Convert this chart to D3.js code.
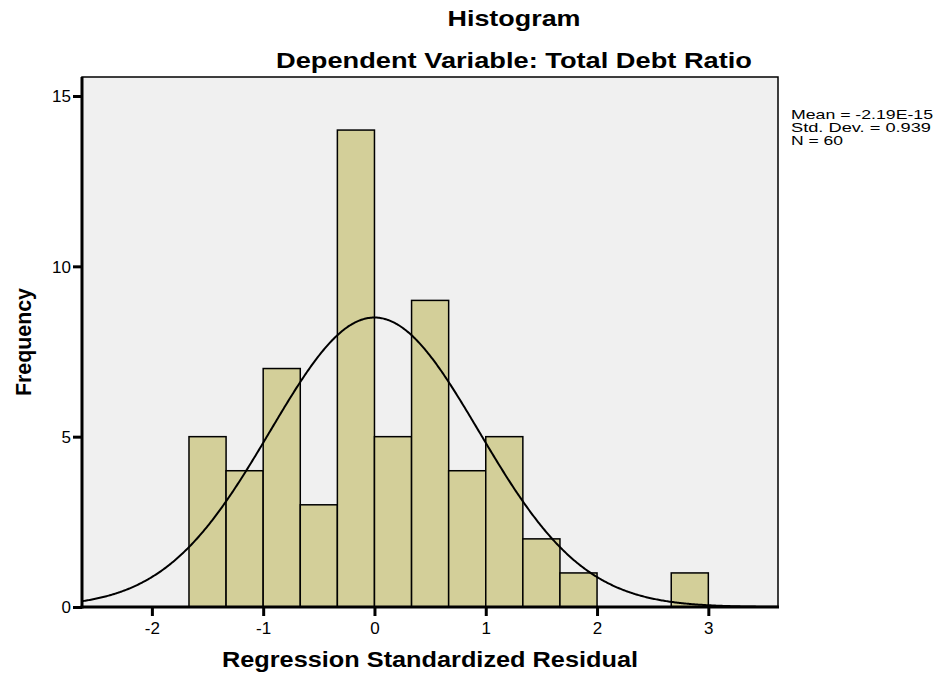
<!DOCTYPE html>
<html>
<head>
<meta charset="utf-8">
<script src="https://cdn.jsdelivr.net/npm/d3@7"></script>
<style>
  body { margin: 0; background: #fff; }
  text { font-family: "Liberation Sans", Arial, sans-serif; }
</style>
</head>
<body>
<svg width="938" height="674"></svg>
<script>
// bins of the standardized residual (width 1/3)
var binStart = [-5/3, -4/3, -1, -2/3, -1/3, 0, 1/3, 2/3, 1, 4/3, 5/3, 2, 7/3, 8/3];
var binWidth = 1 / 3;
var freq = [5, 4, 7, 3, 14, 5, 9, 4, 5, 2, 1, 0, 0, 1];
var xTicks = [-2, -1, 0, 1, 2, 3];
var yTicks = [0, 5, 10, 15];
var mean = 0, sd = 0.939, n = 60;
var statLines = ["Mean = -2.19E-15", "Std. Dev. = 0.939", "N = 60"];
var statWidths = [142, 140, 52];

var svg = d3.select("svg");
var pLeft = 82, pRight = 778, pTop = 77, pBottom = 607;

var x = d3.scaleLinear().domain([-2.628, 3.626]).range([pLeft, pRight]);
var y = d3.scaleLinear().domain([0, 15]).range([pBottom, 96]);

svg.append("rect")
    .attr("x", pLeft).attr("y", pTop)
    .attr("width", pRight - pLeft).attr("height", pBottom - pTop)
    .attr("fill", "#f0f0f0")
    .attr("stroke", "#000").attr("stroke-width", 1.5);

var bars = binStart.map(function(s, i) { return {x0: s, x1: s + binWidth, f: freq[i]}; })
    .filter(function(d) { return d.f > 0; });

svg.append("g").selectAll("rect")
    .data(bars)
    .enter().append("rect")
      .attr("x", function(d) { return x(d.x0); })
      .attr("y", function(d) { return y(d.f); })
      .attr("width", function(d) { return x(d.x1) - x(d.x0); })
      .attr("height", function(d) { return y(0) - y(d.f); })
      .attr("fill", "#d3cf99")
      .attr("stroke", "#000")
      .attr("stroke-width", 1.5);

// normal curve scaled to counts
var pts = d3.range(-2.628, 3.627, 0.01).map(function(v) {
  var z = (v - mean) / sd;
  return [v, n * binWidth * Math.exp(-0.5 * z * z) / (sd * Math.sqrt(2 * Math.PI))];
});
svg.append("path")
    .datum(pts)
    .attr("fill", "none")
    .attr("stroke", "#000")
    .attr("stroke-width", 2)
    .attr("d", d3.line()
        .x(function(d) { return x(d[0]); })
        .y(function(d) { return y(d[1]); }));

// axes
var fmt = function(d) { return String(d); };
var xAxis = svg.append("g")
    .attr("transform", "translate(0," + pBottom + ")")
    .call(d3.axisBottom(x).tickValues(xTicks).tickFormat(fmt).tickSize(9).tickSizeOuter(0).tickPadding(6));
var yAxis = svg.append("g")
    .attr("transform", "translate(" + pLeft + ",0)")
    .call(d3.axisLeft(y).tickValues(yTicks).tickFormat(fmt).tickSize(9).tickSizeOuter(0).tickPadding(2));

[xAxis, yAxis].forEach(function(a) {
  a.select(".domain").remove();
  a.selectAll(".tick line").attr("stroke", "#000").attr("stroke-width", 3);
  a.selectAll(".tick text")
      .attr("font-size", "17px")
      .attr("fill", "#000")
      .style("font-family", "Liberation Sans, Arial, sans-serif");
});
yAxis.selectAll(".tick text").attr("dy", "0.35em");

svg.append("line")
    .attr("x1", pLeft).attr("x2", pLeft).attr("y1", pTop).attr("y2", pBottom + 1.5)
    .attr("stroke", "#000").attr("stroke-width", 3);
svg.append("line")
    .attr("x1", pLeft - 1.5).attr("x2", pRight + 1).attr("y1", pBottom).attr("y2", pBottom)
    .attr("stroke", "#000").attr("stroke-width", 3);

// titles
svg.append("text")
    .attr("x", 514).attr("y", 26)
    .attr("text-anchor", "middle")
    .attr("font-size", "22px").attr("font-weight", "bold")
    .attr("textLength", 133).attr("lengthAdjust", "spacingAndGlyphs")
    .text("Histogram");
svg.append("text")
    .attr("x", 514).attr("y", 68)
    .attr("text-anchor", "middle")
    .attr("font-size", "22px").attr("font-weight", "bold")
    .attr("textLength", 476).attr("lengthAdjust", "spacingAndGlyphs")
    .text("Dependent Variable: Total Debt Ratio");

svg.append("text")
    .attr("x", 430).attr("y", 667)
    .attr("text-anchor", "middle")
    .attr("font-size", "22px").attr("font-weight", "bold")
    .attr("textLength", 416).attr("lengthAdjust", "spacingAndGlyphs")
    .text("Regression Standardized Residual");
svg.append("text")
    .attr("transform", "translate(31,342) rotate(-90)")
    .attr("text-anchor", "middle")
    .attr("font-size", "22px").attr("font-weight", "bold")
    .attr("textLength", 108).attr("lengthAdjust", "spacingAndGlyphs")
    .text("Frequency");

svg.append("g").selectAll("text")
    .data(statLines)
    .enter().append("text")
      .attr("x", 791)
      .attr("y", function(d, i) { return 119 + i * 13; })
      .attr("font-size", "13px")
      .attr("textLength", function(d, i) { return statWidths[i]; })
      .attr("lengthAdjust", "spacingAndGlyphs")
      .text(function(d) { return d; });
</script>
</body>
</html>
